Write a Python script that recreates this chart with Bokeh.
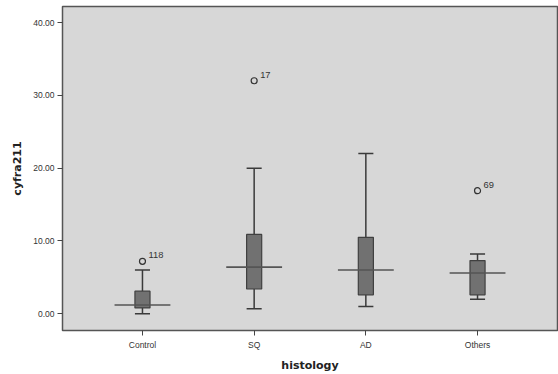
from bokeh.plotting import figure
from bokeh.models import ColumnDataSource, FixedTicker, Range1d
from bokeh.core.properties import value
from bokeh.embed import file_html
from bokeh.resources import INLINE

categories = ["Control", "SQ", "AD", "Others"]
whisker_low = [0.0, 0.7, 1.0, 2.0]
q1 = [0.8, 3.4, 2.6, 2.6]
median = [1.2, 6.4, 6.0, 5.6]
q3 = [3.1, 10.9, 10.5, 7.3]
whisker_high = [6.0, 20.0, 22.0, 8.2]
outlier_cat = ["Control", "SQ", "Others"]
outlier_val = [7.2, 32.0, 16.9]
outlier_label = ["118", "17", "69"]
y_ticks = [0, 10, 20, 30, 40]

xpos = [i + 1 for i in range(len(categories))]
box_w = 0.135
med_w = 0.5

src = ColumnDataSource(dict(
    x=xpos, lo=whisker_low, q1=q1, med=median, q3=q3, hi=whisker_high,
    cl=[x - box_w / 2 for x in xpos], cr=[x + box_w / 2 for x in xpos],
    ml=[x - med_w / 2 for x in xpos], mr=[x + med_w / 2 for x in xpos],
))
osrc = ColumnDataSource(dict(
    x=[categories.index(c) + 1 for c in outlier_cat], y=outlier_val, label=outlier_label,
))

p = figure(width=558, height=374, output_backend="svg", toolbar_location=None,
           x_range=Range1d(0.284, 4.716), y_range=Range1d(-2.3, 42.2),
           min_border_left=62, min_border_right=1, min_border_top=6, min_border_bottom=41)
p.background_fill_color = "#d7d7d7"
p.border_fill_color = "white"
p.outline_line_color = "#555555"
p.outline_line_width = 1.5
p.grid.visible = False

line_col = "#3a3a3a"
# whiskers
p.segment(x0="x", y0="lo", x1="x", y1="q1", source=src, line_color=line_col, line_width=1.5)
p.segment(x0="x", y0="q3", x1="x", y1="hi", source=src, line_color=line_col, line_width=1.5)
p.segment(x0="cl", y0="lo", x1="cr", y1="lo", source=src, line_color=line_col, line_width=1.5)
p.segment(x0="cl", y0="hi", x1="cr", y1="hi", source=src, line_color=line_col, line_width=1.5)
# boxes
p.vbar(x="x", width=box_w, bottom="q1", top="q3", source=src,
       fill_color="#717171", line_color="#404040", line_width=1.2)
# medians
p.segment(x0="ml", y0="med", x1="mr", y1="med", source=src, line_color="#555555", line_width=1.6)
# outliers
p.scatter(x="x", y="y", source=osrc, marker="circle", size=6, fill_color=None,
          line_color="#333333", line_width=1.2)
p.text(x="x", y="y", text="label", source=osrc, x_offset=6, y_offset=-3,
       text_font=value("Liberation Sans"), text_font_size="7pt", text_color="#333333",
       text_baseline="bottom")

p.xaxis.ticker = FixedTicker(ticks=xpos)
p.xaxis.major_label_overrides = {x: c for x, c in zip(xpos, categories)}
p.yaxis.ticker = FixedTicker(ticks=y_ticks)
p.yaxis.major_label_overrides = {t: f"{t:.2f}" for t in y_ticks}
for ax in (p.xaxis, p.yaxis):
    ax.minor_tick_line_color = None
    ax.major_tick_out = 5
    ax.major_tick_in = 0
    ax.axis_line_color = "#555555"
    ax.major_tick_line_color = "#444444"
    ax.major_label_text_font = "Liberation Sans"
    ax.major_label_text_font_size = "8.5px"
    ax.major_label_text_color = "#333333"
    ax.axis_label_text_font = "DejaVu Sans"
    ax.axis_label_text_font_style = "bold"
    ax.axis_label_text_font_size = "11px"
    ax.axis_label_text_color = "#222222"
p.xaxis.axis_label = "histology"
p.yaxis.axis_label = "cyfra211"
p.xaxis.major_label_standoff = 4
p.xaxis.axis_label_standoff = 6
p.yaxis.major_label_standoff = 3
p.yaxis.axis_label_standoff = 6

open("out.html", "w").write(file_html(p, INLINE))
